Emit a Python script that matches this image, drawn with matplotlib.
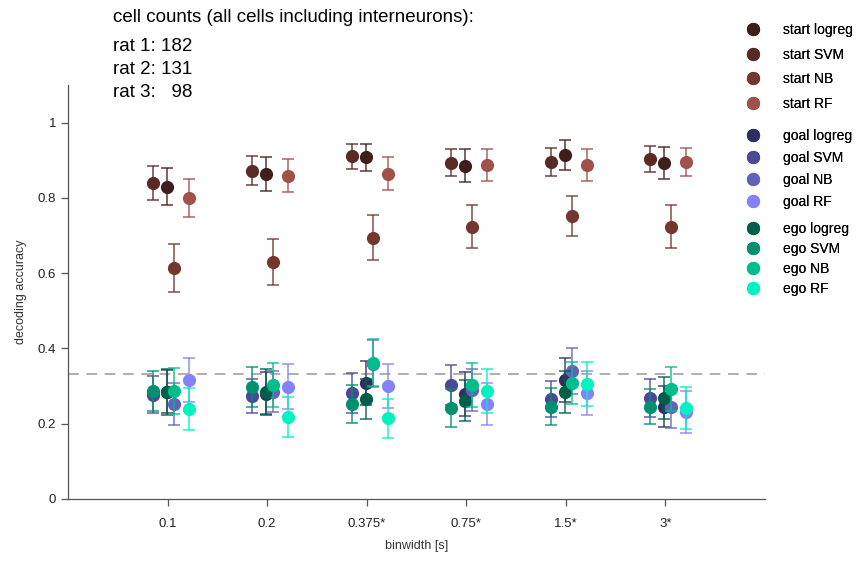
import numpy as np
import matplotlib.pyplot as plt
from matplotlib.lines import Line2D

plt.rcParams['font.family'] = ['Liberation Sans', 'DejaVu Sans']

# binwidths (x categories)
bin_labels = ["0.1", "0.2", "0.375*", "0.75*", "1.5*", "3*"]

classifiers = ["logreg", "SVM", "NB", "RF"]
offsets = [-0.01, -0.15, 0.06, 0.21]

# start decoding
start_logreg = [0.830, 0.864, 0.908, 0.886, 0.915, 0.893]
start_logreg_err = [0.049, 0.045, 0.036, 0.043, 0.040, 0.042]
start_svm = [0.840, 0.872, 0.910, 0.894, 0.896, 0.904]
start_svm_err = [0.045, 0.038, 0.032, 0.035, 0.037, 0.034]
start_nb = [0.614, 0.630, 0.694, 0.723, 0.753, 0.723]
start_nb_err = [0.064, 0.062, 0.060, 0.057, 0.053, 0.057]
start_rf = [0.800, 0.859, 0.864, 0.888, 0.888, 0.896]
start_rf_err = [0.050, 0.044, 0.044, 0.042, 0.042, 0.037]

# goal decoding
goal_logreg = [0.285, 0.280, 0.309, 0.279, 0.316, 0.245]
goal_logreg_err = [0.057, 0.058, 0.058, 0.058, 0.059, 0.055]
goal_svm = [0.277, 0.274, 0.282, 0.303, 0.266, 0.269]
goal_svm_err = [0.049, 0.045, 0.053, 0.053, 0.048, 0.050]
goal_nb = [0.253, 0.285, 0.360, 0.290, 0.340, 0.245]
goal_nb_err = [0.056, 0.055, 0.062, 0.055, 0.062, 0.056]
goal_rf = [0.316, 0.298, 0.300, 0.253, 0.282, 0.231]
goal_rf_err = [0.058, 0.060, 0.058, 0.056, 0.059, 0.056]

# ego decoding
ego_logreg = [0.285, 0.285, 0.266, 0.261, 0.285, 0.269]
ego_logreg_err = [0.061, 0.060, 0.053, 0.055, 0.056, 0.056]
ego_svm = [0.287, 0.298, 0.253, 0.242, 0.245, 0.245]
ego_svm_err = [0.052, 0.053, 0.050, 0.050, 0.049, 0.047]
ego_nb = [0.287, 0.303, 0.362, 0.303, 0.309, 0.293]
ego_nb_err = [0.060, 0.058, 0.062, 0.058, 0.056, 0.058]
ego_rf = [0.239, 0.218, 0.215, 0.287, 0.306, 0.242]
ego_rf_err = [0.055, 0.053, 0.052, 0.058, 0.058, 0.055]

groups = [
    ("start", [start_logreg, start_svm, start_nb, start_rf],
     [start_logreg_err, start_svm_err, start_nb_err, start_rf_err],
     ["#3f1f1c", "#5a2a25", "#73372f", "#a0524a"]),
    ("goal", [goal_logreg, goal_svm, goal_nb, goal_rf],
     [goal_logreg_err, goal_svm_err, goal_nb_err, goal_rf_err],
     ["#2f2e62", "#4b4898", "#6461bd", "#8482fb"]),
    ("ego", [ego_logreg, ego_svm, ego_nb, ego_rf],
     [ego_logreg_err, ego_svm_err, ego_nb_err, ego_rf_err],
     ["#005f48", "#00906f", "#00bd8c", "#00f2bf"]),
]

chance = 1 / 3
rat_counts = [182, 131, 98]

fig = plt.figure(figsize=(8.58, 5.62), dpi=100)
ax = fig.add_axes([0.0793, 0.1121, 0.8123, 0.7367])

x = np.arange(len(bin_labels))

ax.axhline(chance, color="#999999", lw=1.1, dashes=(7, 5), zorder=0)

legend_sets = []
for name, values, errs, colors in groups:
    handles = []
    labels = []
    for k in range(4):
        ax.errorbar(x + offsets[k], values[k], yerr=errs[k], fmt="none",
                    ecolor=colors[k], alpha=0.75, elinewidth=1.3,
                    capsize=4, capthick=1.3)
        ax.plot(x + offsets[k], values[k], "o", color=colors[k],
                markersize=9.5, markeredgewidth=0)
        handles.append(Line2D([], [], marker="o", ls="none", color=colors[k],
                              markersize=9.5, markeredgewidth=0))
        labels.append(f"{name} {classifiers[k]}")
    legend_sets.append((handles, labels))

ax.set_xlim(-1, 6)
ax.set_ylim(0, 1.1)
ax.set_xticks(x)
ax.set_xticklabels(bin_labels)
ax.set_yticks([0, 0.2, 0.4, 0.6, 0.8, 1.0])
ax.set_yticklabels(["0", "0.2", "0.4", "0.6", "0.8", "1"])
ax.tick_params(axis="both", labelsize=9.5, color="#555555", labelcolor="#222222",
               length=5, width=0.9)
ax.tick_params(axis="x", pad=9)
ax.spines["top"].set_visible(False)
ax.spines["right"].set_visible(False)
for s in ["left", "bottom"]:
    ax.spines[s].set_color("#555555")
    ax.spines[s].set_linewidth(0.9)

ax.set_xlabel("binwidth [s]", fontsize=9, color="#333333", labelpad=7)
ax.set_ylabel("decoding accuracy", fontsize=9, color="#333333", labelpad=8)

# cell counts text
fig.text(0.132, 0.968, "cell counts (all cells including interneurons):",
         fontsize=13.5, va="center", ha="left")
for i, n in enumerate(rat_counts):
    pad = "   " if n < 100 else " "
    fig.text(0.132, 0.917 - i * 0.041, f"rat {i + 1}:{pad}{n}",
             fontsize=13.5, va="center", ha="left")

# legends, one block per decoded variable
anchors = [0.969, 0.781, 0.615]
spacings = [0.76, 0.58, 0.44]
for (handles, labels), top, sp in zip(legend_sets, anchors, spacings):
    leg = fig.legend(handles, labels, loc="upper left",
                     bbox_to_anchor=(0.862, top), frameon=False,
                     fontsize=10, labelspacing=sp, handletextpad=1.5,
                     handlelength=1.2, borderaxespad=0)
    fig.add_artist(leg)

plt.savefig("out.png", dpi=100)
plt.close(fig)
